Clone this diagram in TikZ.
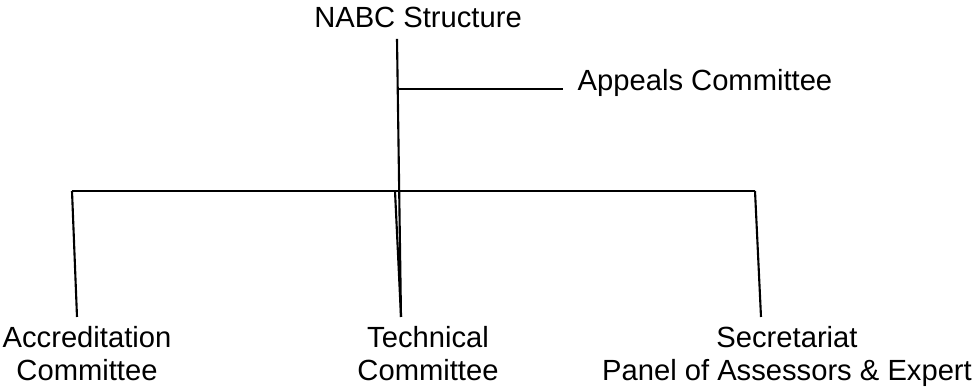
\documentclass[tikz,border=0pt]{standalone}
\usepackage{fontspec}
\setmainfont{Liberation Sans}
\usetikzlibrary{positioning}

\begin{document}
\begin{tikzpicture}

    % Define some common styles
    \tikzset{
        link/.style={line width=0.6pt, black},
        unit/.style={inner sep=0pt, align=center, font=\fontsize{8.3}{9.4}\selectfont},
        head/.style={inner sep=0pt, font=\fontsize{8.3}{9.4}\selectfont}
    }

    % Fix the page size
    \useasboundingbox (0,0) rectangle (9.79,3.88);

    % Title and the side committee
    \node[head, anchor=base] (nabc) at (4.18,3.60) {NABC Structure};
    \node[head, anchor=base west] (appeals) at (5.77,2.97) {Appeals Committee};

    % Committees along the bottom
    \node[unit, anchor=north] (accred) at (0.87,0.62) {Accreditation\\Committee};
    \node[unit, anchor=north] (tech) at (4.28,0.62) {Technical\\Committee};
    \node[unit, anchor=north] (secr) at (7.87,0.62) {Secretariat\\Panel of Assessors \& Expert};

    % Junction points of the tree
    \coordinate (root) at (3.97,3.49);
    \coordinate (side) at (3.97,2.99);
    \coordinate (sideend) at (5.63,2.99);
    \coordinate (barleft) at (0.72,1.97);
    \coordinate (barmid) at (3.95,1.97);
    \coordinate (barright) at (7.55,1.97);
    \coordinate (accredtop) at (0.77,0.71);
    \coordinate (techtop) at (4.01,0.71);
    \coordinate (secrtop) at (7.61,0.71);

    % Trunk and the branch to the appeals committee
    \draw[link] (root) -- (techtop);
    \draw[link] (side) -- (sideend);

    % Horizontal bar with the drops
    \draw[link] (barleft) -- (barright);
    \draw[link] (barleft) -- (accredtop);
    \draw[link] (barmid) -- (techtop);
    \draw[link] (barright) -- (secrtop);

\end{tikzpicture}
\end{document}
